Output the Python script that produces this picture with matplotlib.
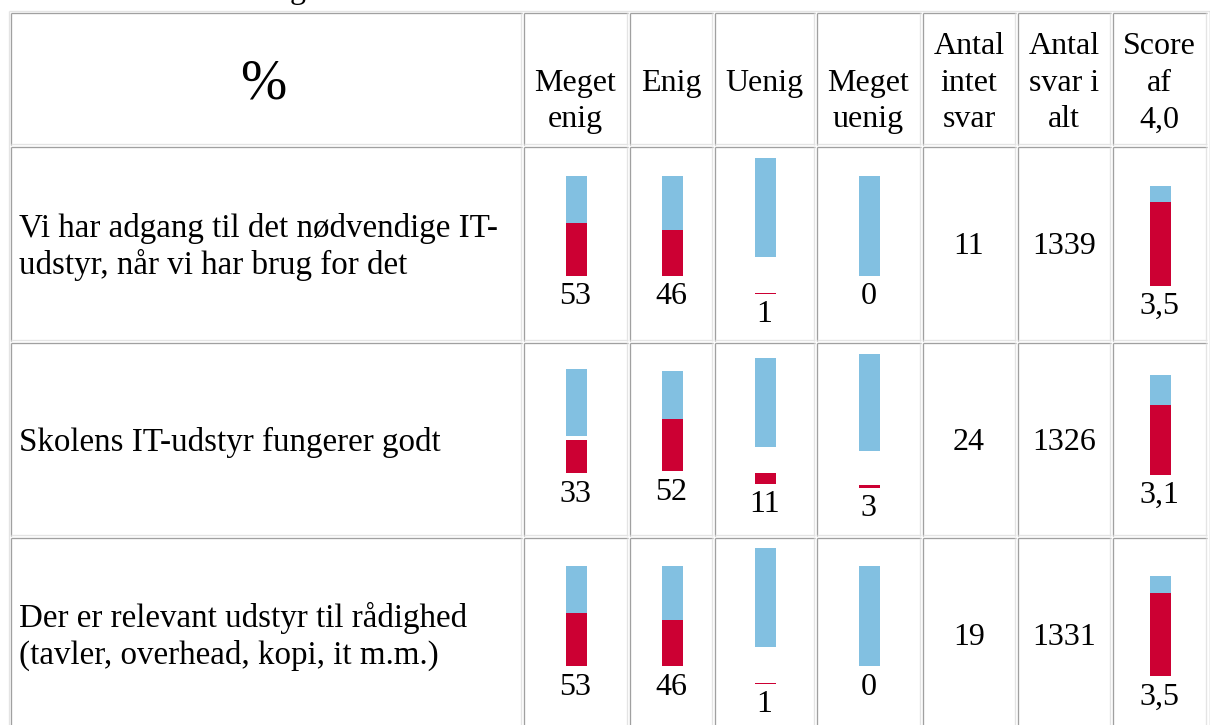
import matplotlib
matplotlib.use("Agg")
import matplotlib.pyplot as plt

# ---------------- data ----------------
questions = [
    ["Vi har adgang til det nødvendige IT-", "udstyr, når vi har brug for det"],
    ["Skolens IT-udstyr fungerer godt"],
    ["Der er relevant udstyr til rådighed", "(tavler, overhead, kopi, it m.m.)"],
]
header_lines = [
    ["", "Meget", "enig"],
    ["Enig"],
    ["Uenig"],
    ["", "Meget", "uenig"],
    ["Antal", "intet", "svar"],
    ["Antal", "svar i", "alt"],
    ["Score", "af", "4,0"],
]
meget_enig = [53, 33, 53]
enig = [46, 52, 46]
uenig = [1, 11, 1]
meget_uenig = [0, 3, 0]
intet_svar = [11, 24, 19]
svar_i_alt = [1339, 1326, 1331]
score = [3.5, 3.1, 3.5]
score_min, score_max = 1.0, 4.0

# ---------------- layout / style ----------------
W, H = 1210, 725
col_edges = [10, 523, 629, 714, 816, 922, 1017, 1112, 1208]
row_edges = [12, 146, 342, 537, 732]
LINE = 36.7      # text line height (px)
BASE = 28.5      # baseline offset inside a line (px)
BAR_W = 21
FS = 23
FS_LABEL = 23.8
FONT = "Liberation Serif"
BLUE = "#82c0e1"
RED = "#cc0033"
DARK = "#a0a0a0"
LIGHT = "#e4e4e4"

fig = plt.figure(figsize=(W / 100, H / 100), dpi=100)
ax = fig.add_axes([0, 0, 1, 1])
ax.set_xlim(0, W)
ax.set_ylim(H, 0)
ax.axis("off")

LW = 1.3 * 72 / 100  # 1.3 px

# outer table border (outset)
ax.hlines(10.5, 8.5, 1209.5, color=LIGHT, lw=LW)
ax.vlines(8.5, 10.5, H + 10, color=LIGHT, lw=LW)
ax.vlines(1209.8, 10.5, H + 10, color=DARK, lw=LW)

# cell borders (inset)
for i in range(len(col_edges) - 1):
    for j in range(len(row_edges) - 1):
        a, b = col_edges[i], col_edges[i + 1]
        t, btm = row_edges[j], row_edges[j + 1]
        ax.hlines(t + 0.8, a + 0.5, b - 1.5, color=DARK, lw=LW)
        ax.vlines(a + 0.8, t + 0.5, btm - 1.5, color=DARK, lw=LW)
        ax.hlines(btm - 2.2, a + 0.5, b - 1.5, color=LIGHT, lw=LW)
        ax.vlines(b - 2.2, t + 0.5, btm - 1.5, color=LIGHT, lw=LW)

col_centers = [(col_edges[i] + col_edges[i + 1]) / 2 + 0.5 for i in range(len(col_edges) - 1)]
row_centers = [(row_edges[j] + row_edges[j + 1]) / 2 for j in range(len(row_edges) - 1)]


def txt(x, y, s, **kw):
    kw.setdefault("fontsize", FS)
    kw.setdefault("family", FONT)
    kw.setdefault("color", "black")
    ax.text(x, y, s, **kw)


def text_block(x, yc, lines, ha="center", dy=0.0, fs=FS):
    top = yc - len(lines) * LINE / 2
    for k, s in enumerate(lines):
        txt(x, top + k * LINE + BASE + dy, s, ha=ha, va="baseline", fontsize=fs)


# cut-off title fragment at the very top
txt(298, -2.0, "g", ha="center", va="baseline")

# header
txt((col_edges[0] + col_edges[1]) / 2 - 3, row_centers[0] + 5, "%", fontsize=40,
    ha="center", va="center")
for i, lines in enumerate(header_lines):
    text_block(col_centers[i + 1] - 1, row_centers[0], lines, dy=1.5)


def bar_cell(xc, yc, red_h, blue_h, label):
    parts = []
    if blue_h > 0:
        parts.append((BLUE, blue_h))
    if red_h > 0:
        parts.append((RED, red_h))
    heights = [max(h, LINE) for _, h in parts] + [LINE]
    y = yc - sum(heights) / 2
    for (color, h), lh in zip(parts, heights):
        bottom = y + lh
        ax.bar(xc, h, bottom=bottom - h, width=BAR_W, color=color, linewidth=0)
        y = bottom
    txt(xc - 1, y + BASE, label, ha="center", va="baseline")


pct_cols = [meget_enig, enig, uenig, meget_uenig]
for j in range(len(questions)):
    yc = row_centers[j + 1]
    text_block(col_edges[0] + 9, yc, questions[j], ha="left", dy=1.0, fs=FS_LABEL)
    for c, series in enumerate(pct_cols):
        v = series[j]
        bar_cell(col_centers[c + 1], yc, v, 100 - v, f"{v}")
    text_block(col_centers[5] - 1, yc, [f"{intet_svar[j]}"])
    text_block(col_centers[6] - 1, yc, [f"{svar_i_alt[j]}"])
    s_red = (score[j] - score_min) / (score_max - score_min) * 100
    bar_cell(col_centers[7], yc, s_red, 100 - s_red, f"{score[j]:.1f}".replace(".", ","))

fig.savefig("out.png", dpi=100)
